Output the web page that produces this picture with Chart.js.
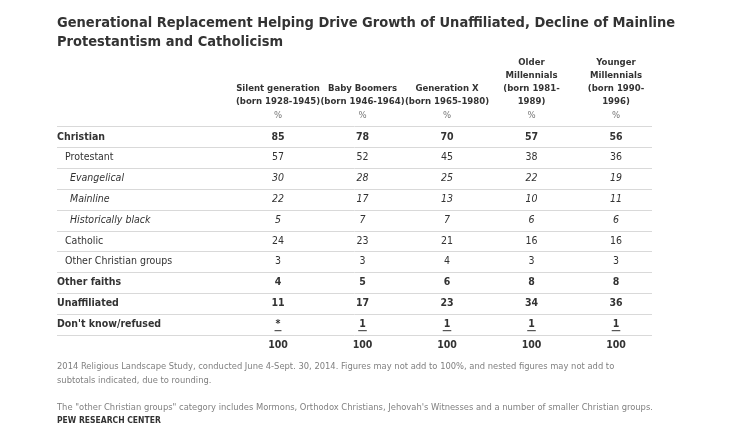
<!DOCTYPE html>
<html>
<head>
<meta charset="utf-8">
<script src="https://cdn.jsdelivr.net/npm/chart.js@4"></script>
<style>
  html, body { margin: 0; padding: 0; background: #fff; }
  #wrap { width: 750px; height: 427px; position: relative; }
</style>
</head>
<body>
<div id="wrap"><canvas id="tbl"></canvas></div>
<script>
// Table data
var columns = [
    ["Silent generation", "(born 1928-1945)"],
    ["Baby Boomers", "(born 1946-1964)"],
    ["Generation X", "(born 1965-1980)"],
    ["Older", "Millennials", "(born 1981-", "1989)"],
    ["Younger", "Millennials", "(born 1990-", "1996)"]
];
var rows = ["", "Christian", "Protestant", "Evangelical", "Mainline", "Historically black",
    "Catholic", "Other Christian groups", "Other faiths", "Unaffiliated", "Don't know/refused", " "];
// row style: b = bold, i = indented, ii = indented italic
var rowStyle = ["", "b", "i", "ii", "ii", "ii", "i", "i", "b", "b", "b", "b"];

var silent   = ["%", 85, 57, 30, 22, 5, 24, 3, 4, 11, "*", 100];
var boomers  = ["%", 78, 52, 28, 17, 7, 23, 3, 5, 17, 1, 100];
var genX     = ["%", 70, 45, 25, 13, 7, 21, 4, 6, 23, 1, 100];
var olderMil = ["%", 57, 38, 22, 10, 6, 16, 3, 8, 34, 1, 100];
var youngMil = ["%", 56, 36, 19, 11, 6, 16, 3, 8, 36, 1, 100];

var series = [silent, boomers, genX, olderMil, youngMil];

var title = ["Generational Replacement Helping Drive Growth of Unaffiliated, Decline of Mainline",
    "Protestantism and Catholicism"];
var notes = [
    "2014 Religious Landscape Study, conducted June 4-Sept. 30, 2014. Figures may not add to 100%, and nested figures may not add to",
    "subtotals indicated, due to rounding.",
    "",
    "The \"other Christian groups\" category includes Mormons, Orthodox Christians, Jehovah's Witnesses and a number of smaller Christian groups."
];

var NARROW = '"Liberation Sans Narrow", "Arial Narrow", "DejaVu Sans Condensed", sans-serif';

// ── Build one dataset per column, one point per row ──
var datasets = series.map(function (vals, c) {
    return {
        label: columns[c].join(" "),
        data: vals.map(function (v, r) { return { x: c, y: rows[r], v: v }; }),
        pointRadius: 0,
        showLine: false
    };
});

// ── Plugin that writes the table text at the scale positions ──
var tablePlugin = {
    id: "tableText",
    afterDatasetsDraw: function (chart) {
        var ctx = chart.ctx;
        var xs = chart.scales.x, ys = chart.scales.y;
        var left = 57, right = 652;
        ctx.save();

        // grid lines between rows
        ctx.strokeStyle = "#d9d9d9";
        ctx.lineWidth = 1;
        for (var r = 0; r < rows.length - 1; r++) {
            var ym = Math.round((ys.getPixelForValue(r) + ys.getPixelForValue(r + 1)) / 2) + 0.5;
            ctx.beginPath(); ctx.moveTo(left, ym); ctx.lineTo(right, ym); ctx.stroke();
        }

        // row labels
        ctx.textBaseline = "middle";
        ctx.textAlign = "left";
        rows.forEach(function (lab, r) {
            var st = rowStyle[r], y = ys.getPixelForValue(r);
            ctx.fillStyle = "#333";
            if (st === "b") ctx.font = "bold 10.5px " + NARROW;
            else if (st === "ii") ctx.font = "italic 10.5px " + NARROW;
            else ctx.font = "10.5px " + NARROW;
            var x = st === "i" ? 65 : st === "ii" ? 70 : left;
            ctx.fillText(lab, x, y);
        });

        // column headers
        ctx.textAlign = "center";
        ctx.textBaseline = "alphabetic";
        ctx.font = "bold 9.5px " + NARROW;
        columns.forEach(function (lines, c) {
            var x = xs.getPixelForValue(c);
            lines.forEach(function (t, i) {
                ctx.fillText(t, x, 104 - (lines.length - 1 - i) * 13);
            });
        });

        // cell values
        ctx.textBaseline = "middle";
        chart.data.datasets.forEach(function (ds, c) {
            var meta = chart.getDatasetMeta(c);
            meta.data.forEach(function (pt, r) {
                var v = ds.data[r].v, st = rowStyle[r];
                ctx.fillStyle = r === 0 ? "#777" : "#333";
                ctx.font = (st === "b" ? "bold " : st === "ii" ? "italic " : "") +
                    (r === 0 ? "9.5px " : "10.5px ") + NARROW;
                var s = String(v);
                ctx.fillText(s, pt.x, pt.y);
                if (r === 10) {
                    var w = ctx.measureText(s).width;
                    ctx.fillRect(pt.x - w / 2 - 1, pt.y + 6, w + 2, 1);
                }
            });
        });
        ctx.restore();
    },
    afterDraw: function (chart) {
        var ctx = chart.ctx;
        ctx.save();
        ctx.fillStyle = "#333";
        ctx.textAlign = "left";
        ctx.textBaseline = "alphabetic";
        ctx.font = "bold 14.5px " + NARROW;
        title.forEach(function (t, i) { ctx.fillText(t, 57, 27 + i * 19); });

        ctx.fillStyle = "#808080";
        ctx.font = "9.3px " + NARROW;
        notes.forEach(function (t, i) { ctx.fillText(t, 57, 369 + i * 13.5); });

        ctx.fillStyle = "#333";
        ctx.font = "bold 8.5px " + NARROW;
        ctx.fillText("PEW RESEARCH CENTER", 57, 423);
        ctx.restore();
    }
};

new Chart(document.getElementById("tbl"), {
    type: "scatter",
    data: { datasets: datasets },
    options: {
        responsive: true,
        maintainAspectRatio: false,
        animation: false,
        events: [],
        layout: { padding: { left: 278, right: 134, top: 116, bottom: 82 } },
        plugins: { legend: { display: false }, tooltip: { enabled: false } },
        scales: {
            x: { type: "linear", min: 0, max: 4, display: false },
            y: { type: "category", labels: rows, offset: false, display: false }
        }
    },
    plugins: [tablePlugin]
});
</script>
</body>
</html>
